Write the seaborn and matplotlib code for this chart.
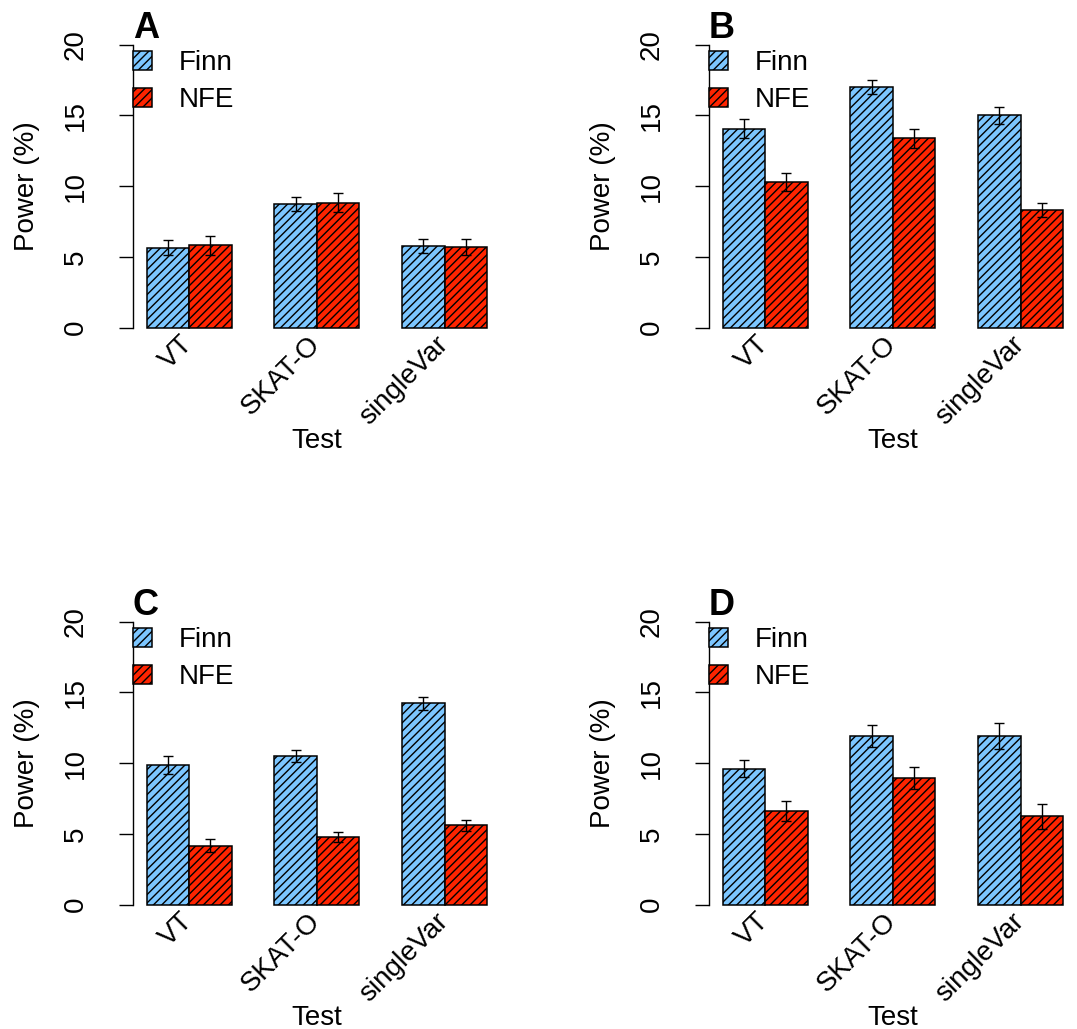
import numpy as np
import pandas as pd
import matplotlib
matplotlib.use("Agg")
import matplotlib.pyplot as plt
import seaborn as sns

# ---------------- data ----------------
tests = ["VT", "SKAT-O", "singleVar"]
populations = ["Finn", "NFE"]
panel_labels = ["A", "B", "C", "D"]

finn_A = [5.65, 8.74, 5.77]
nfe_A = [5.82, 8.83, 5.70]
finn_err_A = [0.53, 0.47, 0.52]
nfe_err_A = [0.65, 0.66, 0.55]

finn_B = [14.06, 17.01, 15.01]
nfe_B = [10.32, 13.38, 8.34]
finn_err_B = [0.67, 0.52, 0.61]
nfe_err_B = [0.63, 0.66, 0.49]

finn_C = [9.86, 10.50, 14.23]
nfe_C = [4.18, 4.78, 5.60]
finn_err_C = [0.64, 0.42, 0.45]
nfe_err_C = [0.45, 0.37, 0.40]

finn_D = [9.62, 11.91, 11.91]
nfe_D = [6.62, 8.96, 6.24]
finn_err_D = [0.59, 0.80, 0.90]
nfe_err_D = [0.69, 0.80, 0.87]

y_ticks = [0, 5, 10, 15, 20]
colors = {"Finn": "#7CC6FF", "NFE": "#FF2400"}

panels = [
    ("A", finn_A, nfe_A, finn_err_A, nfe_err_A),
    ("B", finn_B, nfe_B, finn_err_B, nfe_err_B),
    ("C", finn_C, nfe_C, finn_err_C, nfe_err_C),
    ("D", finn_D, nfe_D, finn_err_D, nfe_err_D),
]

# ---------------- style ----------------
sns.set_style("white")
plt.rcParams["font.family"] = ["Liberation Sans", "DejaVu Sans"]
plt.rcParams["hatch.linewidth"] = 1.0
plt.rcParams["hatch.color"] = "black"
plt.rcParams["text.color"] = "black"
plt.rcParams["axes.labelcolor"] = "black"
plt.rcParams["xtick.color"] = "black"
plt.rcParams["ytick.color"] = "black"

W, H = 1077, 1029
fig = plt.figure(figsize=(W / 100, H / 100), dpi=100)

# axes positions in pixels (left, top)
ax_w = 367.7
ax_h = 305.6
lefts = [133, 709]
tops = [33.4, 610.4]

for i, (lab, finn, nfe, ferr, nerr) in enumerate(panels):
    r, c = divmod(i, 2)
    left = lefts[c]
    top = tops[r]
    ax = fig.add_axes([left / W, 1 - (top + ax_h) / H, ax_w / W, ax_h / H])
    df = pd.DataFrame({
        "Test": tests * 2,
        "Population": ["Finn"] * 3 + ["NFE"] * 3,
        "Power": list(finn) + list(nfe),
    })
    sns.barplot(data=df, x="Test", y="Power", hue="Population", order=tests,
                hue_order=populations, palette=colors, width=2 / 3,
                errorbar=None, edgecolor="black", linewidth=1.1,
                saturation=1, ax=ax, legend=False)
    errs = {"Finn": ferr, "NFE": nerr}
    handles = []
    for pop, cont in zip(populations, ax.containers):
        xs, ys = [], []
        for bar in cont.patches:
            bar.set_hatch("////")
            xs.append(bar.get_x() + bar.get_width() / 2)
            ys.append(bar.get_height())
        handles.append(cont.patches[0])
        ax.errorbar(xs, ys, yerr=errs[pop], fmt="none", ecolor="black",
                    elinewidth=1.0, capsize=3.6, capthick=1.0, zorder=5)

    ax.set_xlim(-0.44, 2.44)
    ax.set_ylim(-0.8, 20.8)
    ax.set_yticks(y_ticks)
    ax.set_yticklabels([str(v) for v in y_ticks])
    ax.tick_params(axis="y", direction="out", length=10, width=1.0,
                   labelsize=20, labelrotation=90, pad=22, left=True,
                   colors="black")
    for t in ax.get_yticklabels():
        t.set_va("center")
    ax.tick_params(axis="x", length=0, pad=1, labelsize=20, colors="black")
    ax.set_xticks(range(len(tests)))
    ax.set_xticklabels(tests, rotation=45, ha="right",
                       rotation_mode="anchor", va="center")

    for s in ["top", "right", "bottom"]:
        ax.spines[s].set_visible(False)
    ax.spines["left"].set_bounds(0, 20)
    ax.spines["left"].set_linewidth(1.0)
    ax.spines["left"].set_color("black")

    ax.set_ylabel("Power (%)", fontsize=20)
    ax.yaxis.label.set_va("center")
    ax.yaxis.set_label_coords(-0.287, 0.5)
    ax.set_xlabel("Test", fontsize=20)
    ax.xaxis.label.set_va("baseline")
    ax.xaxis.set_label_coords(0.5, -0.357)

    ax.text(0.0, 0.985, lab, transform=ax.transAxes, fontsize=26,
            fontweight="bold", ha="left", va="baseline", color="black")

    ax.legend(handles=handles, labels=populations, loc="upper left",
              bbox_to_anchor=(0, 0.945), frameon=False, fontsize=20,
              handlelength=0.68, handleheight=0.68, handletextpad=0.95,
              labelspacing=0.39, borderpad=0, borderaxespad=0,
              labelcolor="black")

fig.savefig("out.png", dpi=100)
